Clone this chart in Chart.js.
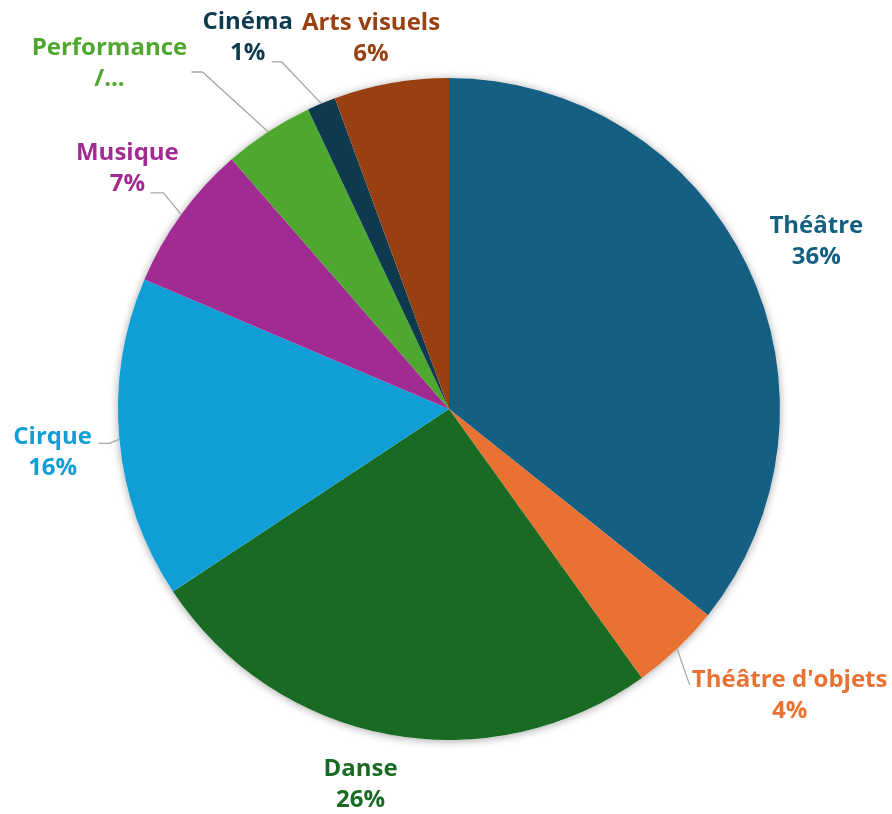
<!DOCTYPE html>
<html>
<head>
<meta charset="utf-8">
<script src="https://cdn.jsdelivr.net/npm/chart.js@4/dist/chart.umd.min.js"></script>
<style>
  html, body { margin:0; padding:0; background:#fff; }
  #wrap { width:892px; height:814px; position:relative; }
</style>
</head>
<body>
<div id="wrap"><canvas id="pieChart"></canvas></div>
<script>
// Répartition par discipline (%)
const categories = ['Théâtre', "Théâtre d'objets", 'Danse', 'Cirque', 'Musique', 'Performance /...', 'Cinéma', 'Arts visuels'];
const shares     = [35.7, 4.4, 25.6, 15.7, 7.2, 4.4, 1.4, 5.6];
const colors     = ['#156082', '#E97132', '#196B24', '#0F9ED5', '#A02B93', '#4EA72E', '#0D3A4E', '#984012'];

// label placement tweaks (label centre relative to radial position, leader elbow / end relative to label centre)
const labelTweaks = [
    { dx:  7, dy:  6 },
    { dx: 65, dy: -3, leader: { ex:-100, ey:-11, hx:-100, hy:-11 } },
    { dx:-16, dy:-18 },
    { dx:  2, dy:  7, leader: { ex: 57, ey: -9, hx: 46, hy: -9 } },
    { dx:  2, dy: -5, leader: { ex: 36, ey: 24, hx: 23, hy: 24 } },
    { dx:-121, dy:-10, leader: { ex: 93, ey:  8, hx: 82, hy:  8 } },
    { dx:-47, dy: -2, leader: { ex: 34, ey: 24, hx: 24, hy: 24 } },
    { dx: -8, dy: 23 }
];

const FONT = '700 24px "Open Sans", sans-serif';

const shadowPlugin = {
    id: 'pieShadow',
    beforeDatasetsDraw(chart) {
        const arc = chart.getDatasetMeta(0).data[0];
        if (!arc) return;
        const ctx = chart.ctx;
        ctx.save();
        ctx.shadowColor = 'rgba(0,0,0,0.35)';
        ctx.shadowBlur = 9;
        ctx.shadowOffsetX = 0;
        ctx.shadowOffsetY = 1;
        ctx.fillStyle = '#ffffff';
        ctx.beginPath();
        ctx.arc(arc.x, arc.y, arc.outerRadius, 0, Math.PI * 2);
        ctx.fill();
        ctx.restore();
    }
};

const labelPlugin = {
    id: 'outerLabels',
    afterDatasetsDraw(chart) {
        const ctx = chart.ctx;
        const total = shares.reduce((a, b) => a + b, 0);
        chart.getDatasetMeta(0).data.forEach((arc, i) => {
            const mid = (arc.startAngle + arc.endAngle) / 2;
            const r = arc.outerRadius;
            const t = labelTweaks[i] || { dx:0, dy:0 };
            const cx = arc.x + Math.cos(mid) * (r + 69) + t.dx;
            const cy = arc.y + Math.sin(mid) * (r + 69) + t.dy;

            if (t.leader) {
                const L = t.leader;
                ctx.save();
                ctx.strokeStyle = '#A6A6A6';
                ctx.lineWidth = 1.3;
                ctx.beginPath();
                ctx.moveTo(arc.x + Math.cos(mid) * r, arc.y + Math.sin(mid) * r);
                ctx.lineTo(cx + L.ex, cy + L.ey);
                ctx.lineTo(cx + L.hx, cy + L.hy);
                ctx.stroke();
                ctx.restore();
            }

            // truncated labels (ending with "...") are shown without the percentage, as in the source
            const name = categories[i];
            let lines;
            if (name.endsWith('...')) {
                lines = name.split(' ');
            } else {
                lines = [name, Math.round(shares[i] / total * 100) + '%'];
            }
            const lh = 31;
            ctx.save();
            ctx.font = FONT;
            ctx.fillStyle = colors[i];
            ctx.textAlign = 'center';
            ctx.textBaseline = 'middle';
            lines.forEach((ln, k) => {
                ctx.fillText(ln, cx, cy + (k - (lines.length - 1) / 2) * lh);
            });
            ctx.restore();
        });
    }
};

new Chart(document.getElementById('pieChart'), {
    type: 'pie',
    data: {
        labels: categories,
        datasets: [{
            data: shares,
            backgroundColor: colors,
            borderWidth: 0,
            hoverOffset: 0
        }]
    },
    options: {
        responsive: true,
        maintainAspectRatio: false,
        animation: false,
        layout: { padding: { left:118, right:112, top:78, bottom:74 } },
        plugins: { legend: { display:false }, tooltip: { enabled:false } }
    },
    plugins: [shadowPlugin, labelPlugin]
});
</script>
</body>
</html>
